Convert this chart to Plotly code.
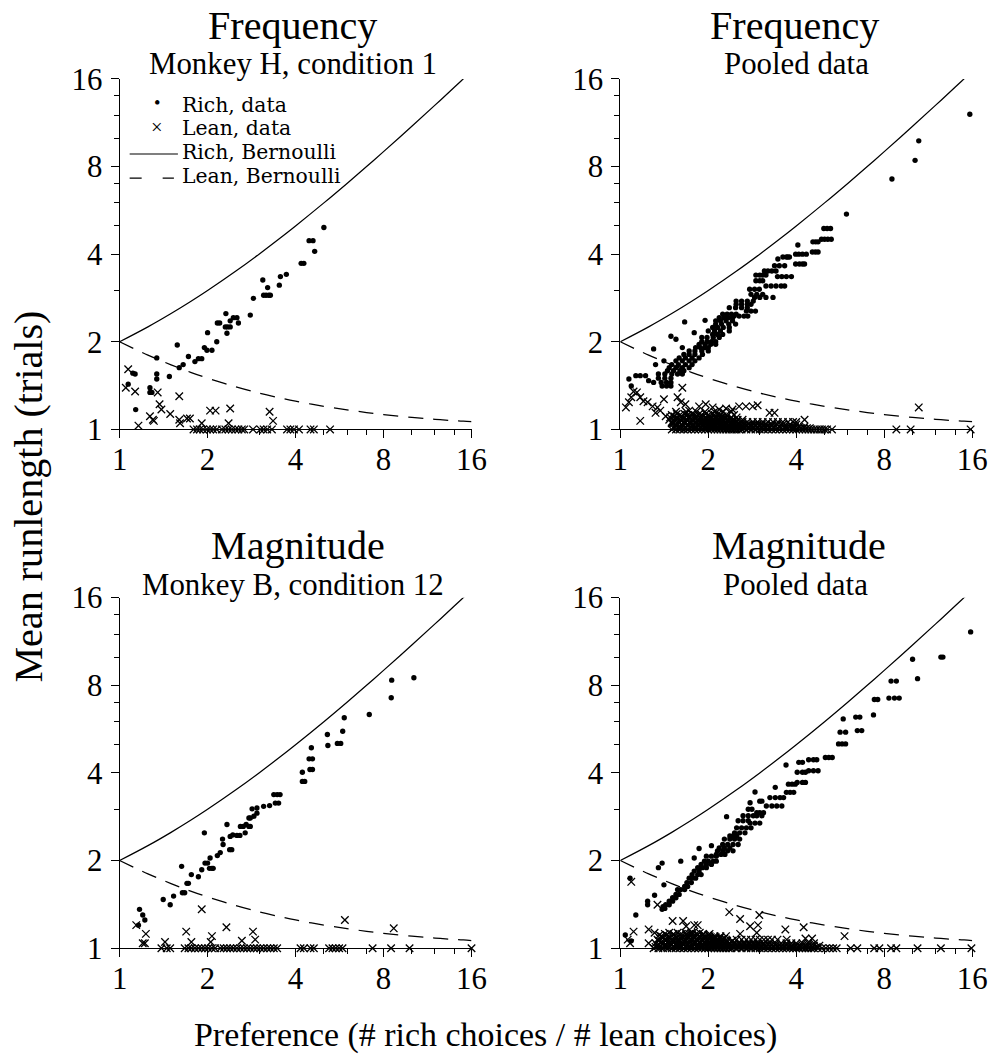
import plotly.graph_objects as go
import math

# ---------------- data ----------------
tick_vals = [1, 2, 4, 8, 16]
tick_text = ["1", "2", "4", "8", "16"]
minor_vals = [3, 5, 6, 7, 10, 12, 14]

# Bernoulli model curves
bern_x = [1, 1.25, 1.5, 1.75, 2, 2.5, 3, 3.5, 4, 5, 6, 7, 8, 10, 12, 14, 15, 16]
bern_rich_y = [2, 2.25, 2.5, 2.75, 3, 3.5, 4, 4.5, 5, 6, 7, 8, 9, 11, 13, 15, 16, 17]
bern_lean_y = [2, 1.8, 1.667, 1.571, 1.5, 1.4, 1.333, 1.286, 1.25, 1.2, 1.167, 1.143,
               1.125, 1.1, 1.083, 1.071, 1.067, 1.0625]

# Frequency, Monkey H, condition 1
fh_rich = [(1.11, 1.56), (1.13, 1.55), (1.07, 1.43), (1.135, 1.17), (1.27, 1.39), (1.27, 1.34),
           (1.29, 1.34), (1.34, 1.76), (1.34, 1.55), (1.34, 1.49), (1.48, 1.52), (1.575, 1.95),
           (1.6, 1.63), (1.65, 1.67), (1.72, 1.78), (1.81, 1.71), (1.86, 1.75), (1.91, 1.75),
           (1.95, 1.91), (1.99, 1.87), (2.0, 2.15), (2.07, 1.87), (2.15, 2.0), (2.16, 2.32),
           (2.2, 2.32), (2.31, 2.5), (2.3, 2.25), (2.34, 2.25), (2.39, 2.25), (2.33, 2.14),
           (2.39, 2.36), (2.45, 2.42), (2.52, 2.42), (2.55, 2.32), (2.8, 2.47), (2.87, 2.82),
           (3.09, 3.26), (3.11, 2.89), (3.17, 2.89), (3.24, 2.89), (3.28, 2.89), (3.21, 3.07),
           (3.52, 3.13), (3.55, 3.35), (3.72, 3.41), (4.18, 3.72), (4.27, 3.72), (4.45, 4.45),
           (4.59, 4.45), (4.65, 4.09), (5.0, 4.94)]
fh_lean = [(1.07, 1.61), (1.05, 1.39), (1.13, 1.35), (1.16, 1.03), (1.27, 1.11), (1.3, 1.08),
           (1.31, 1.07), (1.35, 1.34), (1.37, 1.22), (1.39, 1.17), (1.49, 1.13), (1.6, 1.3),
           (1.6, 1.08), (1.61, 1.05), (1.7, 1.09), (1.74, 1.09), (1.91, 1.05), (2.04, 1.16),
           (2.13, 1.16), (2.39, 1.18), (2.36, 1.05), (3.26, 1.15), (3.35, 1.07)]
fh_lean_at1 = [1.79, 1.84, 1.88, 1.93, 1.99, 2.04, 2.09, 2.15, 2.24, 2.3, 2.36, 2.42, 2.49,
               2.55, 2.62, 2.67, 2.86, 3.03, 3.11, 3.2, 3.32, 3.74, 3.84, 3.95, 4.11, 4.5,
               4.62, 5.25]

# Frequency, pooled data
fp_rich = [(15.7, 12.1), (10.5, 9.8), (10.2, 8.4), (8.5, 7.25), (5.94, 5.49),
           (4.97, 4.9), (5.1, 4.9), (5.24, 4.9), (4.88, 4.5), (5.0, 4.5), (5.13, 4.5), (5.27, 4.5),
           (4.56, 4.41), (4.66, 4.41), (4.75, 4.41), (4.54, 4.07), (4.65, 4.07), (4.75, 4.07),
           (4.05, 4.3), (3.98, 4.0), (4.08, 4.0), (4.2, 4.0), (4.33, 4.0),
           (3.98, 3.7), (4.1, 3.7), (4.2, 3.7), (4.27, 3.7), (3.74, 3.91), (3.6, 3.91), (3.7, 3.91),
           (3.79, 3.91), (3.37, 3.65), (3.5, 3.65), (3.65, 3.65), (3.46, 3.85),
           (3.11, 3.5), (3.2, 3.5), (3.3, 3.5), (3.41, 3.5), (2.91, 3.39), (3.0, 3.39), (3.07, 3.39),
           (3.15, 3.39), (3.45, 3.35), (3.57, 3.35), (3.7, 3.35), (3.85, 3.35),
           (3.15, 3.11), (3.28, 3.11), (3.41, 3.11), (3.55, 3.11), (3.65, 3.11),
           (2.91, 3.24), (3.0, 3.24), (3.07, 3.24), (2.77, 3.03), (2.88, 3.03), (2.99, 3.03),
           (2.8, 2.91), (2.93, 2.91), (3.07, 2.91), (2.88, 2.84), (3.0, 2.84), (3.15, 2.84),
           (3.33, 2.84), (2.49, 2.76), (2.6, 2.76), (2.72, 2.76), (2.85, 2.76),
           (2.49, 2.69), (2.6, 2.69), (2.72, 2.69), (2.8, 2.69), (2.36, 2.62), (2.48, 2.62),
           (2.6, 2.62), (2.72, 2.62), (2.7, 2.55), (2.8, 2.55), (2.9, 2.55),
           (2.24, 2.49), (2.32, 2.49), (2.4, 2.49), (2.49, 2.49), (2.45, 2.45), (2.55, 2.45),
           (2.65, 2.45), (2.73, 2.45), (2.18, 2.42), (2.26, 2.42), (2.34, 2.42), (2.42, 2.42),
           (2.12, 2.36), (2.2, 2.36), (2.3, 2.36), (2.42, 2.36), (2.12, 2.3), (2.22, 2.3),
           (2.35, 2.3), (2.48, 2.3), (2.07, 2.24), (2.15, 2.24), (2.25, 2.24), (2.36, 2.24),
           (2.0, 2.18), (2.1, 2.18), (2.2, 2.18), (2.36, 2.18), (2.07, 2.12), (2.15, 2.12),
           (2.24, 2.12), (1.9, 2.07), (1.98, 2.07), (2.08, 2.07), (2.18, 2.07),
           (1.9, 2.0), (1.98, 2.0), (2.05, 2.0), (2.12, 2.0), (1.86, 1.96), (1.95, 1.96),
           (2.04, 1.96), (2.12, 1.96), (1.81, 1.91), (1.88, 1.91), (1.95, 1.91), (2.0, 1.91),
           (1.72, 1.86), (1.8, 1.86), (1.9, 1.86), (2.0, 1.86), (1.65, 1.81), (1.72, 1.81),
           (1.8, 1.81), (1.91, 1.81), (1.59, 1.76), (1.67, 1.76), (1.76, 1.76), (1.86, 1.76),
           (1.55, 1.72), (1.63, 1.72), (1.72, 1.72), (1.8, 1.72), (1.5, 1.67), (1.58, 1.67),
           (1.67, 1.67), (1.76, 1.67), (1.47, 1.63), (1.55, 1.63), (1.63, 1.63), (1.72, 1.63),
           (1.45, 1.59), (1.52, 1.59), (1.6, 1.59), (1.65, 1.59), (1.35, 1.55), (1.42, 1.55),
           (1.5, 1.55), (1.57, 1.55), (1.63, 1.55), (1.35, 1.5), (1.42, 1.5), (1.49, 1.5),
           (1.38, 1.45), (1.44, 1.45), (1.49, 1.45), (1.39, 1.41), (1.44, 1.41), (1.49, 1.41),
           (1.66, 2.34), (1.95, 2.37), (1.79, 2.15), (1.49, 2.09), (1.55, 2.04), (1.3, 1.89),
           (1.63, 1.91), (1.32, 1.67), (1.41, 1.72), (1.13, 1.53), (1.17, 1.53), (1.22, 1.53),
           (1.07, 1.49), (1.09, 1.41), (1.25, 1.47), (1.3, 1.45)]
fp_lean = [(1.045, 1.19), (1.07, 1.24), (1.09, 1.29), (1.11, 1.35), (1.14, 1.34), (1.17, 1.29),
           (1.2, 1.25), (1.24, 1.24), (1.29, 1.2), (1.32, 1.14), (1.34, 1.19), (1.37, 1.16),
           (1.41, 1.27), (1.43, 1.11), (1.47, 1.08), (1.5, 1.05), (1.57, 1.29), (1.63, 1.39),
           (1.61, 1.24), (1.67, 1.22), (1.72, 1.16), (1.76, 1.13), (1.86, 1.2), (1.96, 1.22),
           (2.07, 1.19), (2.18, 1.17), (2.3, 1.18), (2.42, 1.17), (2.55, 1.2), (2.69, 1.2),
           (2.84, 1.2), (2.95, 1.21), (3.24, 1.14), (3.37, 1.14), (4.27, 1.08), (10.5, 1.19),
           (1.17, 1.07), (8.8, 1.0), (9.85, 1.0), (15.8, 1.0)]
fp_dense_y = [1.0, 1.01, 1.02, 1.03, 1.04, 1.05, 1.06, 1.07, 1.08, 1.09, 1.1, 1.11, 1.12,
              1.13, 1.15]
fp_dense_x = [
    [1.5, 1.55, 1.6, 1.65, 1.7, 1.75, 1.8, 1.85, 1.9, 1.95, 2.0, 2.05, 2.1, 2.15, 2.2, 2.25, 2.3,
     2.35, 2.4, 2.45, 2.5, 2.55, 2.6, 2.7, 2.8, 2.9, 3.0, 3.1, 3.2, 3.3, 3.4, 3.5, 3.6, 3.7, 3.8,
     3.9, 4.0, 4.1, 4.2, 4.3, 4.4, 4.5, 4.6, 4.7, 4.8, 4.9, 5.0, 5.1, 5.3],
    [1.52, 1.57, 1.62, 1.68, 1.73, 1.78, 1.83, 1.88, 1.93, 1.98, 2.03, 2.08, 2.13, 2.18, 2.23,
     2.28, 2.33, 2.38, 2.43, 2.48, 2.53, 2.58, 2.65, 2.75, 2.85, 2.95, 3.05, 3.15, 3.25, 3.35,
     3.45, 3.55, 3.65, 3.75, 3.85, 3.95, 4.05, 4.15, 4.25, 4.35, 4.45],
    [1.53, 1.6, 1.67, 1.74, 1.81, 1.88, 1.95, 2.02, 2.09, 2.16, 2.23, 2.3, 2.38, 2.46, 2.55,
     2.65, 2.75, 2.85, 2.95, 3.05, 3.15, 3.25, 3.35, 3.5, 3.65, 3.8, 3.95, 4.1, 4.25],
    [1.56, 1.63, 1.7, 1.77, 1.84, 1.91, 1.98, 2.05, 2.12, 2.19, 2.26, 2.34, 2.42, 2.5, 2.6,
     2.7, 2.8, 2.9, 3.0, 3.1, 3.2, 3.3],
    [1.55, 1.62, 1.7, 1.78, 1.85, 1.92, 2.0, 2.08, 2.15, 2.22, 2.3, 2.38, 2.45, 2.55, 2.65, 2.75,
     2.85, 2.95, 3.05, 3.15, 3.3, 3.45, 3.6, 3.8, 4.0],
    [1.52, 1.59, 1.66, 1.73, 1.8, 1.87, 1.94, 2.01, 2.08, 2.15, 2.22, 2.29, 2.37, 2.45, 2.55],
    [1.5, 1.58, 1.66, 1.74, 1.82, 1.9, 1.98, 2.06, 2.14, 2.22, 2.3, 2.4, 2.5, 2.62, 2.72, 2.84,
     2.95, 3.07, 3.2, 3.33, 3.46, 3.6, 3.75, 3.9, 4.0],
    [1.54, 1.62, 1.7, 1.78, 1.86, 1.94, 2.02, 2.1, 2.18, 2.26, 2.35, 2.45],
    [1.52, 1.6, 1.68, 1.76, 1.84, 1.92, 2.0, 2.08, 2.16, 2.24, 2.32, 2.42, 2.52, 2.62],
    [1.56, 1.64, 1.72, 1.8, 1.88, 1.96, 2.04, 2.12, 2.2, 2.28, 2.38],
    [1.48, 1.56, 1.64, 1.72, 1.8, 1.88, 1.96, 2.04, 2.12, 2.2, 2.3, 2.4, 2.5],
    [1.53, 1.62, 1.72, 1.82, 1.92, 2.02, 2.12, 2.24],
    [1.5, 1.6, 1.7, 1.8, 1.9, 2.0, 2.1, 2.2, 2.3, 2.45],
    [1.56, 1.66, 1.76, 1.86, 1.96, 2.06, 2.16],
    [1.55, 1.68, 1.82, 1.95, 2.1, 2.25, 2.4],
]

# Magnitude, Monkey B, condition 12
mb_rich = [(10.16, 8.49), (8.53, 8.33), (8.5, 7.25), (7.15, 6.35), (5.87, 6.19), (5.8, 5.56),
           (5.14, 5.42), (5.16, 4.97), (5.56, 5.05), (5.71, 5.05), (4.53, 4.88), (4.57, 4.47),
           (4.45, 4.47), (4.48, 4.11), (4.57, 4.11), (4.22, 4.02), (4.22, 3.74), (4.3, 3.74),
           (3.37, 3.37), (3.46, 3.37), (3.54, 3.37), (3.41, 3.15), (3.5, 3.15), (3.26, 3.09),
           (3.11, 3.07), (2.95, 3.03), (2.84, 3.01), (2.95, 2.91), (2.88, 2.84), (2.8, 2.8),
           (2.77, 2.8), (2.71, 2.66), (2.77, 2.62), (2.8, 2.62), (2.59, 2.62), (2.65, 2.62),
           (2.69, 2.49), (2.52, 2.44), (2.58, 2.44), (2.44, 2.45), (2.33, 2.66), (2.25, 2.37),
           (2.26, 2.27), (2.38, 2.18), (2.42, 2.18), (2.39, 2.42), (2.21, 2.13), (2.16, 2.08),
           (2.04, 2.04), (1.95, 2.49), (2.03, 1.88), (2.07, 1.88), (2.09, 1.88), (1.96, 1.96),
           (2.0, 1.96), (1.91, 1.86), (1.86, 1.76), (1.76, 1.79), (1.7, 1.67), (1.72, 1.67),
           (1.63, 1.91), (1.64, 1.55), (1.67, 1.55), (1.53, 1.51), (1.49, 1.41), (1.41, 1.47),
           (1.17, 1.36), (1.2, 1.3), (1.22, 1.25), (1.16, 1.2)]
mb_lean = [(1.14, 1.2), (1.23, 1.12), (1.2, 1.04), (1.22, 1.04), (1.43, 1.05), (1.69, 1.14),
           (1.76, 1.05), (1.91, 1.36), (2.07, 1.1), (2.05, 1.05), (2.32, 1.18), (2.62, 1.06),
           (2.86, 1.14), (2.91, 1.07), (5.9, 1.25), (8.67, 1.17)]
mb_lean_at1 = [1.39, 1.45, 1.49, 1.67, 1.72, 1.76, 1.81, 1.86, 1.91, 1.96, 2.01, 2.07, 2.12,
               2.21, 2.27, 2.33, 2.39, 2.45, 2.52, 2.59, 2.66, 2.73, 2.8, 2.88, 2.95, 3.03,
               3.11, 3.2, 3.28, 3.37, 3.46, 4.16, 4.27, 4.5, 4.62, 5.21, 5.35, 5.49, 5.64,
               5.79, 7.34, 8.49, 9.82, 16.0]

# Magnitude, pooled data
mp_rich = [(15.8, 12.2), (12.7, 10.0), (12.5, 10.0), (10.0, 9.83), (10.4, 8.43), (8.44, 8.27),
           (8.8, 8.27), (8.3, 7.23), (8.67, 7.23), (9.0, 7.23), (7.4, 7.15), (7.6, 7.15),
           (7.35, 6.33), (6.39, 6.22), (6.6, 6.22), (6.47, 5.59), (6.7, 5.59), (5.79, 6.13),
           (5.65, 5.52), (5.9, 5.52), (5.58, 5.03), (5.74, 5.03), (5.9, 5.03), (5.03, 4.52),
           (5.17, 4.52), (5.31, 4.52), (4.41, 4.44), (4.58, 4.44), (4.7, 4.44), (4.41, 4.07),
           (4.58, 4.07), (4.75, 4.07), (4.08, 4.35), (4.2, 4.35), (4.03, 4.02), (4.2, 4.02),
           (4.3, 4.02), (4.03, 3.71), (4.2, 3.71), (4.3, 3.71), (3.69, 4.26), (3.76, 3.66),
           (3.87, 3.66), (3.97, 3.66), (3.7, 3.43), (3.81, 3.43), (3.92, 3.43), (3.39, 3.57),
           (3.25, 3.29), (3.39, 3.29), (3.52, 3.29), (3.62, 3.29), (3.16, 3.08), (3.3, 3.08),
           (3.43, 3.08), (3.57, 3.08), (2.89, 3.44), (2.78, 3.16), (3.0, 3.2), (3.05, 3.2),
           (2.74, 3.0), (2.82, 3.0), (2.93, 2.92), (3.0, 2.92), (3.09, 2.92), (2.63, 2.85),
           (2.74, 2.85), (2.85, 2.85), (2.93, 2.85), (3.05, 2.85), (2.53, 2.74), (2.63, 2.74),
           (2.74, 2.74), (2.78, 2.69), (2.89, 2.69), (3.0, 2.69), (2.5, 2.59), (2.6, 2.59),
           (2.7, 2.59), (2.8, 2.59), (2.46, 2.49), (2.56, 2.49), (2.67, 2.49), (2.31, 2.83),
           (2.37, 2.43), (2.43, 2.43), (2.5, 2.43), (2.27, 2.37), (2.37, 2.37), (2.46, 2.37),
           (2.56, 2.37), (2.24, 2.27), (2.33, 2.27), (2.43, 2.27), (2.53, 2.27), (2.18, 2.21),
           (2.27, 2.21), (2.37, 2.21), (2.15, 2.16), (2.24, 2.16), (2.33, 2.16), (2.43, 2.16),
           (2.05, 2.25), (2.13, 2.1), (2.21, 2.1), (2.28, 2.1), (1.97, 2.07), (2.05, 2.07),
           (2.13, 2.07), (1.94, 1.99), (2.0, 1.99), (2.08, 1.99), (2.13, 1.99), (1.89, 1.94),
           (1.97, 1.94), (2.05, 1.94), (1.86, 2.2), (1.84, 1.89), (1.91, 1.89), (1.97, 1.89),
           (1.79, 1.84), (1.86, 1.84), (1.79, 2.04), (1.76, 1.79), (1.84, 1.79), (1.89, 1.79),
           (1.72, 1.74), (1.76, 1.74), (1.81, 1.74), (1.69, 1.68), (1.75, 1.68), (1.61, 1.99),
           (1.66, 1.63), (1.7, 1.63), (1.57, 1.59), (1.61, 1.59), (1.66, 1.59), (1.55, 1.53),
           (1.59, 1.53), (1.51, 1.49), (1.55, 1.49), (1.47, 1.45), (1.51, 1.45), (1.43, 1.41),
           (1.47, 1.41), (1.4, 1.39), (1.42, 1.37), (1.39, 1.36), (1.39, 1.96), (1.35, 1.89),
           (1.41, 1.65), (1.31, 1.52), (1.24, 1.45), (1.24, 1.41), (1.13, 1.3), (1.08, 1.74),
           (1.04, 1.11), (1.09, 1.06)]
mp_lean = [(1.09, 1.69), (1.11, 1.14), (1.06, 1.07), (1.08, 1.04), (1.25, 1.16), (1.25, 1.04),
           (1.34, 1.41), (1.31, 1.13), (1.36, 1.11), (1.51, 1.24), (1.64, 1.24), (1.68, 1.19),
           (1.75, 1.13), (1.79, 1.2), (1.84, 1.2), (2.36, 1.33), (2.57, 1.26), (2.78, 1.19),
           (2.96, 1.2), (2.99, 1.3), (2.57, 1.12), (2.93, 1.13), (3.67, 1.16), (4.24, 1.18),
           (4.3, 1.08), (4.53, 1.08), (3.71, 1.07), (5.85, 1.1),
           (6.14, 1.0), (6.47, 1.0), (7.39, 1.0), (7.7, 1.0), (8.44, 1.0), (8.8, 1.0),
           (10.4, 1.0), (12.5, 1.0), (15.9, 1.0)]
mp_dense_y = [1.0, 1.01, 1.02, 1.03, 1.04, 1.05, 1.06, 1.07, 1.08, 1.09, 1.1, 1.11, 1.12, 1.13]
mp_dense_x = [
    [1.3, 1.35, 1.4, 1.45, 1.5, 1.55, 1.6, 1.65, 1.7, 1.75, 1.8, 1.85, 1.9, 1.95, 2.0, 2.05, 2.1,
     2.15, 2.2, 2.25, 2.3, 2.35, 2.4, 2.5, 2.6, 2.7, 2.8, 2.9, 3.0, 3.1, 3.2, 3.3, 3.4, 3.5, 3.6,
     3.7, 3.8, 3.9, 4.0, 4.1, 4.2, 4.3, 4.4, 4.5, 4.6, 4.75, 4.9, 5.05, 5.2, 5.35, 5.5],
    [1.32, 1.37, 1.42, 1.47, 1.52, 1.57, 1.62, 1.67, 1.72, 1.77, 1.82, 1.87, 1.92, 1.97, 2.02,
     2.07, 2.12, 2.17, 2.22, 2.27, 2.32, 2.37, 2.45, 2.55, 2.65, 2.75, 2.85, 2.95, 3.05, 3.15,
     3.25, 3.35, 3.45, 3.55, 3.65, 3.75, 3.85, 3.95, 4.05, 4.15, 4.25, 4.35, 4.45, 4.55, 4.7],
    [1.34, 1.41, 1.48, 1.55, 1.62, 1.69, 1.76, 1.83, 1.9, 1.97, 2.04, 2.11, 2.18, 2.25, 2.33,
     2.42, 2.52, 2.62, 2.72, 2.82, 2.92, 3.02, 3.12, 3.25, 3.4, 3.55, 3.7, 3.85, 4.0, 4.2, 4.4,
     4.6, 4.8],
    [1.36, 1.43, 1.5, 1.57, 1.64, 1.71, 1.78, 1.85, 1.92, 1.99, 2.06, 2.13, 2.2, 2.28, 2.37,
     2.47, 2.57, 2.67, 2.77, 2.87, 2.97, 3.07, 3.2],
    [1.32, 1.4, 1.48, 1.56, 1.64, 1.72, 1.8, 1.88, 1.96, 2.04, 2.12, 2.2, 2.28, 2.36, 2.45,
     2.55, 2.65, 2.75, 2.85, 2.95, 3.1, 3.25, 3.4, 3.55, 3.7, 3.85, 4.0, 4.2, 4.4, 4.6],
    [1.38, 1.45, 1.52, 1.59, 1.66, 1.73, 1.8, 1.87, 1.94, 2.01, 2.08, 2.15, 2.22, 2.3, 2.4],
    [1.35, 1.43, 1.51, 1.59, 1.67, 1.75, 1.83, 1.91, 1.99, 2.07, 2.15, 2.23, 2.32, 2.42],
    [1.34, 1.42, 1.5, 1.58, 1.66, 1.74, 1.82, 1.9, 1.98, 2.06, 2.14, 2.22, 2.3, 2.5, 2.6,
     2.7, 2.8, 2.9, 3.0, 3.1, 3.2, 3.3, 3.45],
    [1.37, 1.45, 1.53, 1.61, 1.69, 1.77, 1.85, 1.93, 2.01, 2.09, 2.18, 2.27],
    [1.4, 1.48, 1.56, 1.64, 1.72, 1.8, 1.88, 1.96, 2.04, 2.12, 2.2],
    [1.38, 1.46, 1.54, 1.62, 1.7, 1.78, 1.86, 1.94, 2.02, 2.1, 2.2, 2.3],
    [1.44, 1.52, 1.6, 1.68, 1.76, 1.84, 1.92, 2.0],
    [1.42, 1.52, 1.62, 1.72, 1.82, 1.92, 2.02],
    [1.47, 1.57, 1.67, 1.77, 1.87],
]

legend_labels = ["Rich, data", "Lean, data", "Rich, Bernoulli", "Lean, Bernoulli"]

# ---------------- figure ----------------
FONT = "Liberation Serif, Times New Roman, serif"
LEG_FONT = "DejaVu Serif, Liberation Serif, serif"
# the photographed page appears scaled/offset relative to figure pixels; compensate
SX, OX = 0.972, 9.0
SY, OY = 0.967, 17.2
W, H = 1013, 1077

def px_x(p):                 # reference-picture pixel -> paper
    return ((p - OX) / SX) / W

def px_y(p):
    return 1 - ((p - OY) / SY) / H

def fs(s):                   # font / marker size compensation
    return s / SX

panels = [
    dict(rich=fh_rich, lean=fh_lean + [(v, 1.0) for v in fh_lean_at1]),
    dict(rich=fp_rich, lean=fp_lean + [(v, y) for y, row in zip(fp_dense_y, fp_dense_x) for v in row]),
    dict(rich=mb_rich, lean=mb_lean + [(v, 1.0) for v in mb_lean_at1]),
    dict(rich=mp_rich, lean=mp_lean + [(v, y) for y, row in zip(mp_dense_y, mp_dense_x) for v in row]),
]

xdom = [[px_x(120), px_x(470)], [px_x(618), px_x(968)]] * 2
ydom = [[px_y(430), px_y(80)]] * 2 + [[px_y(948), px_y(598)]] * 2

fig = go.Figure()
for i, p in enumerate(panels):
    sfx = "" if i == 0 else str(i + 1)
    xa, ya = "x" + sfx, "y" + sfx
    fig.add_trace(go.Scatter(
        x=[q[0] for q in p["rich"]], y=[q[1] for q in p["rich"]], mode="markers",
        marker=dict(symbol="circle", size=fs(5.2), color="black"), name=legend_labels[0],
        showlegend=False, xaxis=xa, yaxis=ya, cliponaxis=False))
    fig.add_trace(go.Scatter(
        x=[q[0] for q in p["lean"]], y=[q[1] for q in p["lean"]], mode="markers",
        marker=dict(symbol="x-thin", size=fs(7.3), line=dict(width=1.3, color="black"),
                    color="black"),
        name=legend_labels[1], showlegend=False, xaxis=xa, yaxis=ya, cliponaxis=False))
    fig.add_trace(go.Scatter(
        x=bern_x, y=bern_rich_y, mode="lines", line=dict(color="black", width=1.25, shape="spline"),
        name=legend_labels[2], showlegend=False, xaxis=xa, yaxis=ya))
    fig.add_trace(go.Scatter(
        x=bern_x, y=bern_lean_y, mode="lines",
        line=dict(color="black", width=1.25, dash="15px,10px", shape="spline"),
        name=legend_labels[3], showlegend=False, xaxis=xa, yaxis=ya))

    axis_common = dict(
        type="log", showline=True, linecolor="black", linewidth=1.1, mirror=False,
        showgrid=False, zeroline=False, ticks="outside", ticklen=8, tickwidth=1,
        tickcolor="black", tickmode="array", tickvals=tick_vals, ticktext=tick_text,
        tickfont=dict(family=FONT, size=fs(30), color="black"),
        minor=dict(tickmode="array", tickvals=minor_vals, ticks="outside", ticklen=5,
                   tickwidth=1, tickcolor="black", showgrid=False),
        range=[0, math.log10(16)],
    )
    fig.update_layout(**{
        "xaxis" + sfx: dict(axis_common, domain=xdom[i], anchor=ya, ticklabelstandoff=-5),
        "yaxis" + sfx: dict(axis_common, domain=ydom[i], anchor=xa, ticklabelstandoff=2),
    })

ann = []
def text(t, x, y, size, angle=0, xanchor="center", family=FONT):
    ann.append(dict(text=t, x=px_x(x), y=px_y(y), xref="paper", yref="paper",
                    showarrow=False, xanchor=xanchor, yanchor="middle", textangle=angle,
                    font=dict(family=family, size=fs(size), color="black")))

text("Frequency", 292, 27, 39)
text("Monkey H, condition 1", 292, 65, 30)
text("Frequency", 791, 27, 39)
text("Pooled data", 793, 65, 30)
text("Magnitude", 297, 546, 39)
text("Monkey B, condition 12", 292, 585, 30)
text("Magnitude", 796, 546, 39)
text("Pooled data", 792, 585, 30)
text("Mean runlength (trials)", 29, 497, 39, angle=-90)
text("Preference (# rich choices / # lean choices)", 484, 1035, 33)

# legend (upper-left panel), drawn as text rows with sample symbols
leg_base = [113, 136.5, 160, 183.5]
for lab, yb in zip(legend_labels, leg_base):
    text(lab, 180, yb - 7, 19.8, xanchor="left", family=LEG_FONT)
text("\u2022", 157, 104, 18)
text("\u00d7", 157, 128, 20)

shapes = [
    dict(type="line", xref="paper", yref="paper", x0=px_x(130), x1=px_x(178),
         y0=px_y(155), y1=px_y(155), line=dict(color="black", width=1.2)),
    dict(type="line", xref="paper", yref="paper", x0=px_x(130), x1=px_x(174),
         y0=px_y(179), y1=px_y(179), line=dict(color="black", width=1.2, dash="12px,21px")),
]

fig.update_layout(
    width=W, height=H, margin=dict(l=0, r=0, t=0, b=0),
    paper_bgcolor="white", plot_bgcolor="white",
    font=dict(family=FONT, color="black"),
    annotations=ann, shapes=shapes, showlegend=False,
)

fig.write_html("out.html")
